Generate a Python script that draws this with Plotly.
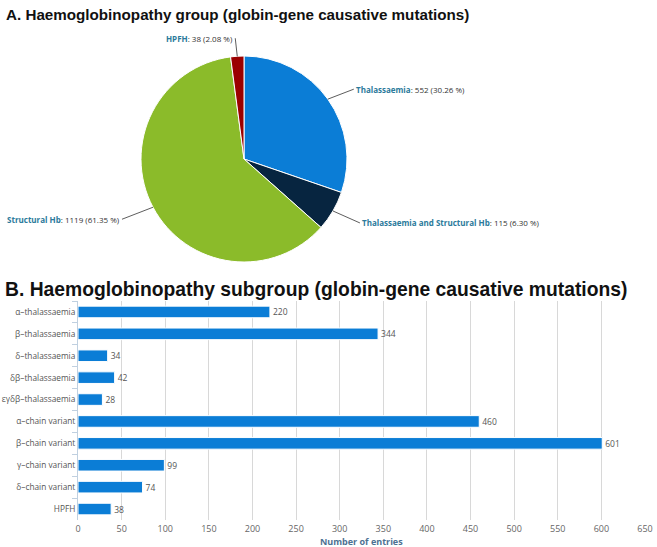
import math
import plotly.graph_objects as go

# ---- data ----
pie_labels = ["Thalassaemia", "Thalassaemia and Structural Hb", "Structural Hb", "HPFH"]
pie_values = [552, 115, 1119, 38]
pie_colors = ["#0b7dd6", "#072540", "#8bbb2a", "#9b0000"]

bar_categories = ["α–thalassaemia", "β–thalassaemia", "δ–thalassaemia", "δβ–thalassaemia",
                  "εγδβ–thalassaemia", "α–chain variant", "β–chain variant", "γ–chain variant",
                  "δ–chain variant", "HPFH"]
bar_values = [220, 344, 34, 42, 28, 460, 601, 99, 74, 38]
x_ticks = list(range(0, 651, 50))

title_a = "A. Haemoglobinopathy group (globin-gene causative mutations)"
title_b = "B. Haemoglobinopathy subgroup (globin-gene causative mutations)"
x_title = "Number of entries"

W, H = 657, 547

# ---- layout geometry (pixels) ----
pie_cx, pie_cy, pie_r = 244, 159, 103
bar_left, bar_right, bar_top, bar_bottom = 78, 645, 301, 520

fig = go.Figure()

fig.add_trace(go.Pie(
    labels=pie_labels, values=pie_values, sort=False, direction="clockwise", rotation=0,
    marker=dict(colors=pie_colors, line=dict(color="white", width=1)),
    textinfo="none", showlegend=False, hoverinfo="label+value+percent",
    domain=dict(x=[(pie_cx - pie_r) / W, (pie_cx + pie_r) / W],
                y=[(H - pie_cy - pie_r) / H, (H - pie_cy + pie_r) / H]),
))

fig.add_trace(go.Bar(
    y=bar_categories, x=bar_values, orientation="h",
    marker=dict(color="#0b7dd6", line=dict(color="white", width=1)),
    text=[str(v) for v in bar_values], textposition="outside", cliponaxis=False,
    constraintext="none",
    textfont=dict(size=8.5, color="#555", family="Open Sans"),
    showlegend=False, xaxis="x", yaxis="y",
))

# pie outside labels with connectors (label offsets in px)
label_offsets = [(26, -10, "left"), (27, 12, "left"), (-31, 12, "right"), (-2, -18, "right")]
total = sum(pie_values)
annotations = []
cum = 0
for lab, val, (ax, ay, anchor) in zip(pie_labels, pie_values, label_offsets):
    mid = (cum + val / 2) / total * 2 * math.pi
    cum += val
    px = pie_cx + pie_r * math.sin(mid)
    py = pie_cy - pie_r * math.cos(mid)
    pct = val / total * 100
    txt = (f"<b><span style='color:#2b7a9b'>{lab}</span></b>: {val} ({pct:.2f} %)")
    annotations.append(dict(
        x=px / W, y=(H - py) / H, xref="paper", yref="paper",
        text=txt, showarrow=True, arrowhead=0, arrowwidth=0.8, arrowcolor="#333",
        ax=ax, ay=ay, xanchor=anchor, yanchor="middle", standoff=0,
        font=dict(size=8, color="#333", family="Open Sans"),
    ))

annotations.append(dict(x=4 / W, y=1 - 15 / H, xref="paper", yref="paper", text=f"<b>{title_a}</b>",
                         showarrow=False, xanchor="left", yanchor="middle",
                         font=dict(size=15.2, color="#111", family="Liberation Sans")))
annotations.append(dict(x=3 / W, y=1 - 289 / H, xref="paper", yref="paper", text=f"<b>{title_b}</b>",
                         showarrow=False, xanchor="left", yanchor="middle",
                         font=dict(size=19.3, color="#111", family="Liberation Sans")))
annotations.append(dict(x=(bar_left + bar_right) / 2 / W, y=1 - 541 / H, xref="paper", yref="paper",
                         text=f"<b>{x_title}</b>", showarrow=False, xanchor="center", yanchor="middle",
                         font=dict(size=9, color="#4d7192", family="Open Sans")))

fig.update_layout(
    width=W, height=H, margin=dict(l=0, r=0, t=0, b=0, autoexpand=False),
    paper_bgcolor="white", plot_bgcolor="white",
    bargap=0.47,
    xaxis=dict(domain=[bar_left / W, bar_right / W], range=[0, 650], tickvals=x_ticks,
               automargin=False,
               showgrid=True, gridcolor="#d8d8d8", gridwidth=1, zeroline=False, showline=False,
               ticks="", ticklen=0, ticklabelstandoff=2,
               tickfont=dict(size=9, color="#666", family="Open Sans")),
    yaxis=dict(domain=[(H - bar_bottom) / H, (H - bar_top) / H], autorange="reversed",
               type="category", showline=True, linecolor="#c0d0e0", linewidth=1,
               automargin=False,
               ticks="outside", tickson="boundaries", ticklen=5, tickcolor="#c0d0e0",
               showgrid=False, tickfont=dict(size=8.3, color="#555", family="Open Sans")),
    annotations=annotations,
)

fig.write_html(
    "out.html",
    config={"displayModeBar": False, "responsive": False},
    post_script="document.body.style.margin='0';document.body.style.overflow='hidden';",
)
